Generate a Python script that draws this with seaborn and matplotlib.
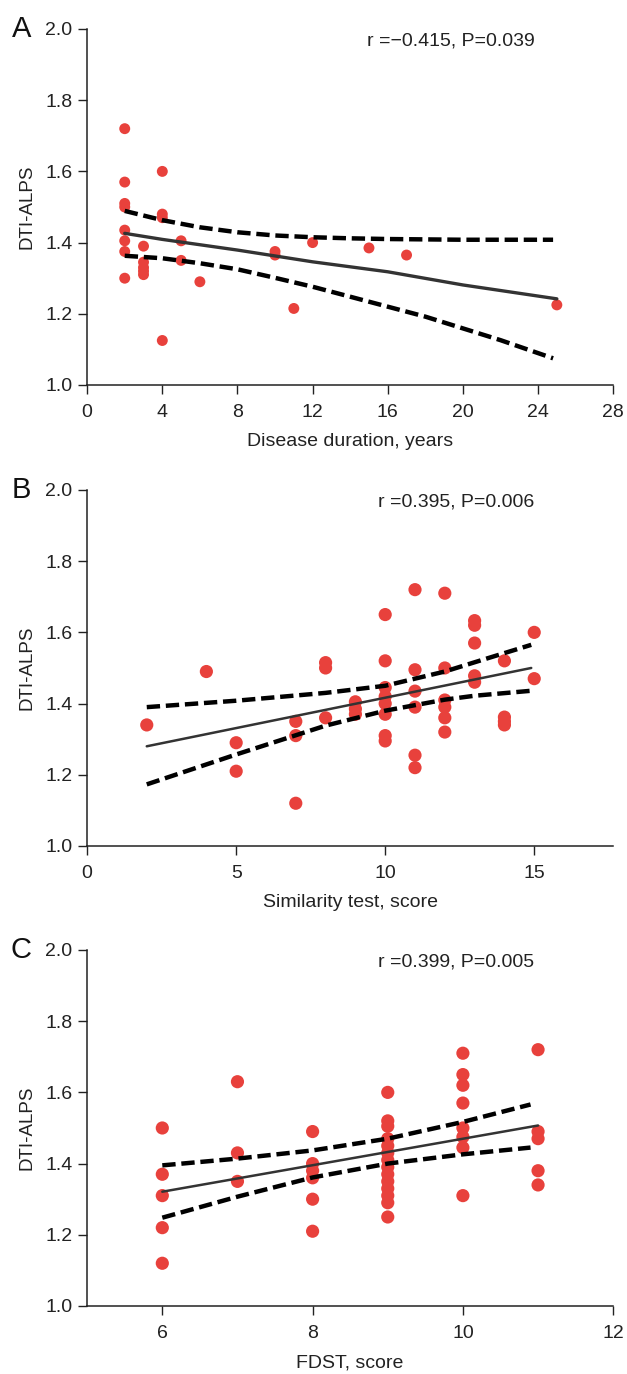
import matplotlib
matplotlib.use('Agg')
import matplotlib.pyplot as plt
import seaborn as sns
import pandas as pd

# ---------------------------------------------------------------
# DATA
# ---------------------------------------------------------------
# Panel A: disease duration vs DTI-ALPS
dur_x = [2, 2, 2, 2, 2, 2, 2, 2,
         3, 3, 3, 3, 3,
         4, 4, 4, 4,
         5, 5, 6, 10, 10, 11, 12, 15, 17, 25]
dur_y = [1.72, 1.57, 1.51, 1.50, 1.435, 1.405, 1.375, 1.30,
         1.39, 1.345, 1.33, 1.32, 1.31,
         1.60, 1.48, 1.47, 1.125,
         1.405, 1.35, 1.29, 1.375, 1.365, 1.215, 1.40, 1.385, 1.365, 1.225]
dur_fit_x = [2, 4, 8, 12, 16, 20, 25]
dur_fit_y = [1.426, 1.409, 1.379, 1.346, 1.318, 1.281, 1.242]
dur_ci_x = [2, 4, 6, 8, 10, 12, 14, 16, 18, 20, 22, 24.8]
dur_ci_hi = [1.489, 1.463, 1.443, 1.429, 1.420, 1.415, 1.412, 1.410, 1.409, 1.408, 1.408, 1.408]
dur_ci_lo = [1.363, 1.356, 1.342, 1.325, 1.301, 1.276, 1.248, 1.220, 1.192, 1.159, 1.126, 1.075]

# Panel B: similarity test vs DTI-ALPS
sim_x = [2, 4, 5, 5, 7, 7, 7, 8, 8, 8, 9, 9, 9,
         10, 10, 10, 10, 10, 10, 10, 10,
         11, 11, 11, 11, 11, 11,
         12, 12, 12, 12, 12, 12,
         13, 13, 13, 13, 13,
         14, 14, 14, 14, 15, 15]
sim_y = [1.34, 1.49, 1.29, 1.21, 1.35, 1.31, 1.12, 1.515, 1.50, 1.36, 1.405, 1.385, 1.37,
         1.65, 1.52, 1.445, 1.42, 1.40, 1.37, 1.31, 1.295,
         1.72, 1.495, 1.435, 1.39, 1.255, 1.22,
         1.71, 1.50, 1.41, 1.39, 1.36, 1.32,
         1.633, 1.62, 1.57, 1.478, 1.46,
         1.52, 1.362, 1.35, 1.34, 1.60, 1.47]
sim_fit_x = [2, 14.9]
sim_fit_y = [1.280, 1.500]
sim_ci_x = [2, 5, 8, 10, 12, 13, 14.9]
sim_ci_hi = [1.390, 1.408, 1.430, 1.450, 1.490, 1.516, 1.565]
sim_ci_lo = [1.173, 1.257, 1.338, 1.380, 1.411, 1.422, 1.436]

# Panel C: FDST vs DTI-ALPS
fdst_x = [6, 6, 6, 6, 6,
          7, 7, 7,
          8, 8, 8, 8, 8, 8,
          9, 9, 9, 9, 9, 9, 9, 9, 9, 9, 9, 9, 9, 9,
          10, 10, 10, 10, 10, 10, 10, 10,
          11, 11, 11, 11, 11]
fdst_y = [1.50, 1.37, 1.31, 1.22, 1.12,
          1.63, 1.43, 1.35,
          1.49, 1.40, 1.38, 1.36, 1.30, 1.21,
          1.60, 1.52, 1.505, 1.47, 1.45, 1.43, 1.41, 1.39, 1.37, 1.35, 1.33, 1.31, 1.29, 1.25,
          1.71, 1.65, 1.62, 1.57, 1.50, 1.475, 1.445, 1.31,
          1.72, 1.49, 1.47, 1.38, 1.34]
fdst_fit_x = [6, 11]
fdst_fit_y = [1.321, 1.507]
fdst_ci_x = [6, 7, 8, 9, 10, 10.9]
fdst_ci_hi = [1.395, 1.414, 1.437, 1.470, 1.517, 1.566]
fdst_ci_lo = [1.248, 1.307, 1.361, 1.400, 1.426, 1.445]

panel_letters = ['A', 'B', 'C']
x_labels = ['Disease duration, years', 'Similarity test, score', 'FDST, score']
stat_texts = ['r =\u22120.415, P=0.039', 'r =0.395, P=0.006', 'r =0.399, P=0.005']
y_ticks = [1.0, 1.2, 1.4, 1.6, 1.8, 2.0]
x_ticks = [[0, 4, 8, 12, 16, 20, 24, 28], [0, 5, 10, 15], [6, 8, 10, 12]]
x_limits = [(0, 28), (0, 17.65), (5, 12)]

# ---------------------------------------------------------------
# PLOTTING
# ---------------------------------------------------------------
sns.set_style('ticks')
plt.rcParams['font.family'] = ['Liberation Sans', 'DejaVu Sans']

fig = plt.figure(figsize=(6.27, 13.74), dpi=100)
bottoms = [0.7198, 0.3843, 0.0495]

# (x, y, fit x, fit y, ci x, ci upper, ci lower, fit width, dot size)
panels = [
    (dur_x, dur_y, dur_fit_x, dur_fit_y, dur_ci_x, dur_ci_hi, dur_ci_lo, 2.4, 62),
    (sim_x, sim_y, sim_fit_x, sim_fit_y, sim_ci_x, sim_ci_hi, sim_ci_lo, 1.8, 90),
    (fdst_x, fdst_y, fdst_fit_x, fdst_fit_y, fdst_ci_x, fdst_ci_hi, fdst_ci_lo, 1.8, 90),
]

for i, (px, py, fx, fy, cx, chi, clo, fit_lw, dot_s) in enumerate(panels):
    ax = fig.add_axes([0.139, bottoms[i], 0.839, 0.2591])

    pts = pd.DataFrame({'x': px, 'y': py})
    sns.scatterplot(data=pts, x='x', y='y', ax=ax, color='#e8413c', s=dot_s,
                    edgecolor='none', zorder=2)

    ci = pd.DataFrame({'x': cx, 'hi': chi, 'lo': clo})
    sns.lineplot(data=ci, x='x', y='hi', ax=ax, color='black', lw=3.2,
                 zorder=3).lines[-1].set_dashes([3, 1.3])
    sns.lineplot(data=ci, x='x', y='lo', ax=ax, color='black', lw=3.2,
                 zorder=3).lines[-1].set_dashes([3, 1.3])

    fit = pd.DataFrame({'x': fx, 'y': fy})
    sns.lineplot(data=fit, x='x', y='y', ax=ax, color='#333333', lw=fit_lw, zorder=4)

    ax.set_xlim(*x_limits[i])
    ax.set_ylim(1.0, 2.0)
    ax.set_xticks(x_ticks[i])
    ax.set_yticks(y_ticks)
    ax.set_yticklabels(['%.1f' % v for v in y_ticks])
    ax.tick_params(axis='both', labelsize=14, length=6.5, width=1, color='#222222',
                   labelcolor='#222222', pad=4)
    ax.tick_params(axis='x', pad=7)
    ax.set_xlabel(x_labels[i], fontsize=14, color='#222222', labelpad=9)
    ax.set_ylabel('DTI-ALPS', fontsize=13.5, color='#222222', labelpad=7)
    for side in ['left', 'bottom']:
        ax.spines[side].set_linewidth(1.1)
        ax.spines[side].set_color('#222222')
    sns.despine(ax=ax)

    ax.text(0.85, 0.965, stat_texts[i], transform=ax.transAxes, ha='right', va='center',
            fontsize=14, color='#222222')
    ax.text(-0.125, 1.0, panel_letters[i], transform=ax.transAxes, ha='center',
            va='center', fontsize=21, color='#111111')

fig.savefig('out.png', dpi=100)
